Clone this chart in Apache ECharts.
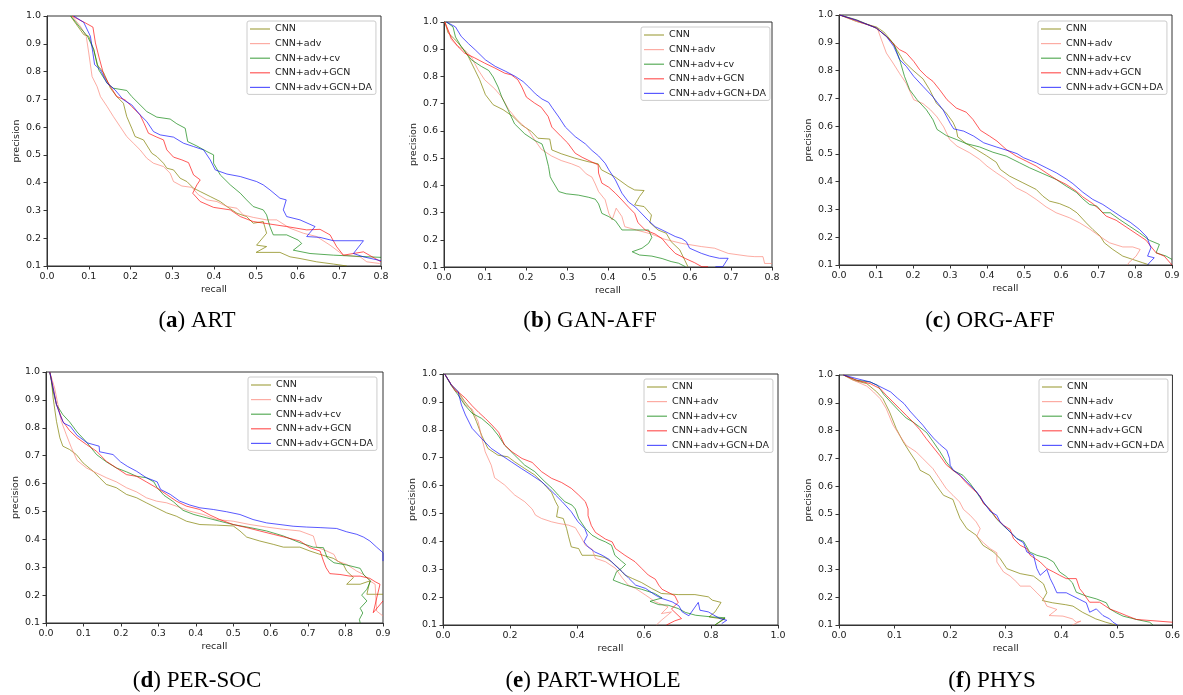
<!DOCTYPE html>
<html>
<head>
<meta charset="utf-8">
<script src="https://cdn.jsdelivr.net/npm/echarts@6/dist/echarts.min.js"></script>
<style>
  html, body { margin: 0; padding: 0; background: #fff; }
  #chart { width: 1183px; height: 695px; }
</style>
</head>
<body>
<div id="chart"></div>
<script>
const seriesNames = ['CNN', 'CNN+adv', 'CNN+adv+cv', 'CNN+adv+GCN', 'CNN+adv+GCN+DA']
const captionLetters = ['a', 'b', 'c', 'd', 'e', 'f']
const captionNames = ['ART', 'GAN-AFF', 'ORG-AFF', 'PER-SOC', 'PART-WHOLE', 'PHYS']
const xMaxes = [0.8, 0.8, 0.9, 0.9, 1.0, 0.6]
const xSteps = [0.1, 0.1, 0.1, 0.1, 0.2, 0.1]

// (a) ART
const artCnn = [[0.056,1.0],[0.088,0.933],[0.10,0.927],[0.112,0.879],[0.12,0.825],[0.136,0.795],[0.152,0.74],[0.167,0.71],[0.183,0.686],[0.191,0.638],[0.203,0.596],[0.211,0.566],[0.231,0.554],[0.251,0.506],[0.263,0.494],[0.279,0.47],[0.287,0.452],[0.303,0.446],[0.319,0.416],[0.335,0.404],[0.351,0.38],[0.367,0.368],[0.391,0.35],[0.415,0.332],[0.431,0.314],[0.455,0.29],[0.478,0.278],[0.494,0.254],[0.518,0.26],[0.526,0.218],[0.502,0.175],[0.526,0.17],[0.501,0.149],[0.558,0.149],[0.582,0.133],[0.606,0.127],[0.646,0.115],[0.686,0.107],[0.718,0.10]]
const artAdv = [[0.06,1.0],[0.08,0.963],[0.094,0.927],[0.10,0.867],[0.108,0.782],[0.12,0.746],[0.128,0.71],[0.144,0.674],[0.159,0.638],[0.175,0.602],[0.191,0.566],[0.207,0.542],[0.223,0.518],[0.239,0.488],[0.255,0.47],[0.279,0.458],[0.295,0.434],[0.303,0.404],[0.323,0.388],[0.347,0.383],[0.363,0.356],[0.383,0.338],[0.407,0.332],[0.431,0.314],[0.455,0.308],[0.47,0.284],[0.494,0.275],[0.526,0.266],[0.55,0.266],[0.582,0.236],[0.614,0.218],[0.646,0.206],[0.678,0.175],[0.71,0.139],[0.75,0.133],[0.766,0.115],[0.797,0.109]]
const artCv = [[0.057,1.0],[0.08,0.957],[0.097,0.927],[0.112,0.879],[0.124,0.806],[0.144,0.758],[0.159,0.74],[0.191,0.732],[0.203,0.71],[0.223,0.68],[0.239,0.656],[0.263,0.636],[0.295,0.629],[0.311,0.612],[0.331,0.596],[0.337,0.548],[0.359,0.532],[0.383,0.512],[0.399,0.50],[0.399,0.47],[0.415,0.428],[0.439,0.392],[0.463,0.362],[0.478,0.338],[0.494,0.314],[0.518,0.302],[0.526,0.284],[0.534,0.242],[0.542,0.212],[0.574,0.212],[0.602,0.193],[0.61,0.181],[0.59,0.157],[0.63,0.145],[0.686,0.139],[0.80,0.131]]
const artGcn = [[0.06,1.0],[0.092,0.975],[0.11,0.96],[0.116,0.903],[0.125,0.849],[0.136,0.788],[0.152,0.746],[0.167,0.71],[0.187,0.698],[0.203,0.674],[0.223,0.644],[0.233,0.612],[0.243,0.578],[0.263,0.564],[0.279,0.554],[0.287,0.518],[0.303,0.492],[0.323,0.482],[0.339,0.472],[0.351,0.428],[0.367,0.41],[0.359,0.392],[0.349,0.362],[0.367,0.332],[0.399,0.311],[0.439,0.302],[0.463,0.278],[0.494,0.26],[0.534,0.251],[0.574,0.242],[0.622,0.23],[0.654,0.232],[0.678,0.212],[0.694,0.169],[0.71,0.139],[0.758,0.151],[0.80,0.115]]
const artDa = [[0.064,1.0],[0.088,0.977],[0.104,0.927],[0.114,0.825],[0.128,0.806],[0.144,0.758],[0.163,0.734],[0.183,0.698],[0.203,0.68],[0.223,0.644],[0.239,0.62],[0.255,0.584],[0.271,0.572],[0.303,0.564],[0.327,0.542],[0.351,0.53],[0.375,0.518],[0.391,0.482],[0.403,0.446],[0.431,0.431],[0.463,0.422],[0.502,0.404],[0.518,0.392],[0.534,0.374],[0.558,0.344],[0.573,0.338],[0.566,0.302],[0.574,0.278],[0.606,0.266],[0.642,0.242],[0.622,0.206],[0.654,0.203],[0.686,0.191],[0.758,0.191],[0.734,0.145],[0.758,0.133],[0.80,0.119]]

// (b) GAN-AFF
const ganCnn = [[0.002,1.0],[0.01,0.96],[0.026,0.937],[0.042,0.91],[0.059,0.874],[0.075,0.825],[0.087,0.788],[0.101,0.733],[0.12,0.696],[0.144,0.678],[0.168,0.653],[0.189,0.622],[0.213,0.598],[0.229,0.573],[0.258,0.57],[0.263,0.53],[0.286,0.516],[0.319,0.50],[0.351,0.487],[0.376,0.479],[0.384,0.457],[0.416,0.432],[0.449,0.396],[0.465,0.383],[0.488,0.381],[0.477,0.359],[0.465,0.328],[0.488,0.322],[0.506,0.291],[0.502,0.263],[0.522,0.236],[0.542,0.224],[0.554,0.193],[0.575,0.163],[0.587,0.126],[0.595,0.101]]
const ganAdv = [[0.002,1.0],[0.018,0.935],[0.034,0.91],[0.05,0.898],[0.067,0.871],[0.083,0.825],[0.099,0.788],[0.124,0.754],[0.141,0.724],[0.158,0.678],[0.18,0.638],[0.205,0.604],[0.221,0.567],[0.237,0.533],[0.262,0.508],[0.286,0.491],[0.311,0.479],[0.331,0.467],[0.347,0.442],[0.361,0.43],[0.369,0.405],[0.377,0.377],[0.393,0.347],[0.402,0.297],[0.41,0.273],[0.42,0.316],[0.434,0.285],[0.441,0.248],[0.469,0.236],[0.506,0.221],[0.538,0.202],[0.579,0.187],[0.628,0.175],[0.66,0.169],[0.693,0.15],[0.741,0.14],[0.758,0.138],[0.778,0.138],[0.782,0.113],[0.80,0.113]]
const ganCv = [[0.006,1.0],[0.022,0.982],[0.028,0.945],[0.042,0.91],[0.067,0.861],[0.091,0.837],[0.109,0.822],[0.12,0.798],[0.132,0.761],[0.141,0.724],[0.156,0.678],[0.172,0.626],[0.197,0.589],[0.221,0.565],[0.239,0.552],[0.247,0.518],[0.255,0.469],[0.259,0.432],[0.263,0.42],[0.28,0.377],[0.298,0.369],[0.328,0.364],[0.353,0.356],[0.369,0.349],[0.377,0.332],[0.385,0.297],[0.402,0.285],[0.418,0.27],[0.434,0.236],[0.469,0.236],[0.499,0.236],[0.507,0.209],[0.499,0.187],[0.483,0.169],[0.459,0.156],[0.477,0.144],[0.507,0.14],[0.532,0.131],[0.554,0.12],[0.572,0.114],[0.589,0.101]]
const ganGcn = [[0.002,1.0],[0.018,0.941],[0.034,0.91],[0.05,0.886],[0.075,0.868],[0.099,0.849],[0.124,0.831],[0.148,0.812],[0.164,0.806],[0.18,0.788],[0.19,0.761],[0.201,0.724],[0.221,0.702],[0.237,0.687],[0.254,0.653],[0.263,0.614],[0.286,0.579],[0.302,0.555],[0.32,0.518],[0.337,0.503],[0.359,0.487],[0.376,0.475],[0.377,0.445],[0.385,0.408],[0.402,0.393],[0.418,0.371],[0.434,0.346],[0.45,0.32],[0.465,0.297],[0.473,0.263],[0.491,0.236],[0.515,0.221],[0.532,0.204],[0.548,0.175],[0.564,0.15],[0.589,0.131],[0.611,0.116],[0.629,0.101],[0.644,0.101]]
const ganDa = [[0.006,1.0],[0.028,0.982],[0.042,0.947],[0.06,0.92],[0.076,0.898],[0.101,0.861],[0.125,0.837],[0.15,0.819],[0.174,0.8],[0.193,0.781],[0.207,0.761],[0.223,0.736],[0.239,0.717],[0.255,0.705],[0.263,0.687],[0.28,0.651],[0.296,0.614],[0.32,0.579],[0.345,0.552],[0.361,0.528],[0.377,0.508],[0.393,0.481],[0.402,0.457],[0.418,0.42],[0.434,0.371],[0.45,0.339],[0.467,0.32],[0.483,0.295],[0.499,0.27],[0.515,0.248],[0.532,0.236],[0.548,0.224],[0.564,0.212],[0.58,0.204],[0.591,0.193],[0.599,0.169],[0.628,0.15],[0.648,0.14],[0.672,0.132],[0.693,0.132],[0.68,0.101],[0.662,0.101]]

// (c) ORG-AFF
const orgCnn = [[0.002,1.0],[0.047,0.977],[0.101,0.957],[0.121,0.939],[0.139,0.911],[0.157,0.873],[0.175,0.833],[0.2,0.801],[0.227,0.77],[0.245,0.731],[0.263,0.683],[0.29,0.647],[0.308,0.614],[0.317,0.588],[0.321,0.561],[0.344,0.537],[0.371,0.516],[0.398,0.494],[0.425,0.47],[0.436,0.444],[0.461,0.42],[0.497,0.396],[0.533,0.372],[0.551,0.348],[0.569,0.33],[0.596,0.321],[0.623,0.306],[0.643,0.288],[0.668,0.252],[0.686,0.228],[0.706,0.204],[0.717,0.18],[0.74,0.156],[0.767,0.132],[0.794,0.12],[0.821,0.108],[0.839,0.10]]
const orgAdv = [[0.002,1.0],[0.047,0.977],[0.092,0.959],[0.105,0.947],[0.112,0.921],[0.128,0.863],[0.146,0.827],[0.164,0.789],[0.182,0.753],[0.202,0.695],[0.227,0.681],[0.247,0.659],[0.265,0.633],[0.283,0.597],[0.299,0.552],[0.319,0.528],[0.353,0.504],[0.38,0.48],[0.40,0.456],[0.425,0.432],[0.452,0.408],[0.479,0.378],[0.506,0.36],[0.533,0.336],[0.56,0.309],[0.587,0.288],[0.623,0.27],[0.65,0.252],[0.677,0.23],[0.704,0.204],[0.731,0.18],[0.767,0.165],[0.794,0.165],[0.814,0.156],[0.803,0.132],[0.783,0.108],[0.78,0.10]]
const orgCv = [[0.002,1.0],[0.047,0.983],[0.101,0.953],[0.128,0.923],[0.148,0.897],[0.164,0.839],[0.177,0.779],[0.191,0.731],[0.211,0.695],[0.236,0.659],[0.254,0.623],[0.265,0.588],[0.29,0.566],[0.317,0.552],[0.344,0.537],[0.38,0.525],[0.416,0.506],[0.452,0.492],[0.488,0.468],[0.515,0.45],[0.551,0.429],[0.587,0.408],[0.614,0.384],[0.641,0.362],[0.659,0.338],[0.677,0.318],[0.697,0.312],[0.713,0.288],[0.733,0.288],[0.758,0.264],[0.785,0.24],[0.812,0.216],[0.839,0.189],[0.866,0.174],[0.857,0.144],[0.884,0.132],[0.90,0.12]]
const orgGcn = [[0.002,1.0],[0.047,0.981],[0.101,0.953],[0.128,0.923],[0.146,0.897],[0.164,0.875],[0.182,0.863],[0.202,0.833],[0.218,0.803],[0.236,0.779],[0.254,0.761],[0.272,0.731],[0.292,0.695],[0.317,0.665],[0.344,0.65],[0.362,0.624],[0.382,0.585],[0.407,0.564],[0.427,0.546],[0.452,0.516],[0.479,0.492],[0.506,0.474],[0.533,0.456],[0.56,0.432],[0.587,0.408],[0.614,0.39],[0.641,0.366],[0.659,0.345],[0.686,0.321],[0.704,0.3],[0.722,0.276],[0.749,0.261],[0.776,0.237],[0.803,0.213],[0.83,0.189],[0.841,0.17],[0.857,0.144],[0.879,0.132],[0.90,0.10]]
const orgDa = [[0.002,1.0],[0.047,0.981],[0.101,0.953],[0.128,0.923],[0.148,0.887],[0.164,0.839],[0.182,0.815],[0.202,0.779],[0.227,0.743],[0.254,0.705],[0.281,0.659],[0.301,0.609],[0.31,0.59],[0.337,0.582],[0.364,0.564],[0.391,0.54],[0.425,0.525],[0.461,0.51],[0.481,0.501],[0.499,0.486],[0.533,0.468],[0.56,0.45],[0.587,0.432],[0.614,0.41],[0.632,0.393],[0.659,0.362],[0.686,0.336],[0.713,0.318],[0.74,0.294],[0.767,0.27],[0.787,0.254],[0.812,0.228],[0.832,0.201],[0.843,0.162],[0.834,0.132],[0.852,0.126],[0.839,0.108],[0.834,0.10]]

// (d) PER-SOC
const perCnn = [[0.01,1.0],[0.014,0.979],[0.019,0.907],[0.028,0.823],[0.037,0.764],[0.045,0.734],[0.063,0.722],[0.081,0.704],[0.099,0.674],[0.126,0.644],[0.143,0.621],[0.161,0.597],[0.188,0.585],[0.215,0.561],[0.242,0.549],[0.268,0.531],[0.295,0.513],[0.322,0.495],[0.348,0.483],[0.375,0.465],[0.411,0.453],[0.455,0.451],[0.50,0.448],[0.518,0.43],[0.536,0.408],[0.571,0.394],[0.607,0.382],[0.634,0.372],[0.678,0.372],[0.705,0.358],[0.732,0.346],[0.767,0.332],[0.794,0.31],[0.803,0.286],[0.821,0.263],[0.803,0.239],[0.839,0.239],[0.865,0.251],[0.857,0.203],[0.90,0.203]]
const perAdv = [[0.01,1.0],[0.023,0.943],[0.032,0.883],[0.041,0.823],[0.054,0.776],[0.068,0.728],[0.083,0.683],[0.108,0.656],[0.135,0.638],[0.161,0.621],[0.188,0.606],[0.215,0.585],[0.242,0.57],[0.268,0.549],[0.295,0.537],[0.322,0.531],[0.348,0.519],[0.384,0.501],[0.42,0.489],[0.455,0.471],[0.50,0.465],[0.545,0.453],[0.589,0.444],[0.634,0.436],[0.678,0.43],[0.714,0.412],[0.723,0.372],[0.75,0.358],[0.769,0.346],[0.778,0.322],[0.803,0.31],[0.83,0.286],[0.848,0.274],[0.865,0.251],[0.879,0.239],[0.883,0.143],[0.90,0.125]]
const perCv = [[0.01,1.0],[0.019,0.931],[0.028,0.883],[0.045,0.847],[0.063,0.821],[0.083,0.785],[0.108,0.749],[0.135,0.704],[0.161,0.678],[0.188,0.656],[0.215,0.642],[0.242,0.626],[0.268,0.621],[0.288,0.606],[0.297,0.585],[0.315,0.558],[0.34,0.535],[0.366,0.504],[0.395,0.489],[0.429,0.477],[0.464,0.465],[0.50,0.453],[0.545,0.442],[0.589,0.43],[0.634,0.412],[0.678,0.388],[0.714,0.372],[0.741,0.37],[0.751,0.334],[0.769,0.316],[0.803,0.308],[0.839,0.296],[0.849,0.272],[0.867,0.251],[0.857,0.221],[0.843,0.20],[0.857,0.179],[0.839,0.153],[0.846,0.136],[0.837,0.113],[0.839,0.10]]
const perGcn = [[0.01,1.0],[0.019,0.943],[0.028,0.883],[0.045,0.823],[0.063,0.79],[0.083,0.764],[0.108,0.74],[0.135,0.716],[0.161,0.68],[0.188,0.656],[0.215,0.632],[0.242,0.626],[0.268,0.606],[0.295,0.585],[0.322,0.561],[0.348,0.537],[0.375,0.519],[0.411,0.507],[0.438,0.487],[0.464,0.471],[0.50,0.453],[0.536,0.442],[0.571,0.43],[0.607,0.418],[0.643,0.406],[0.678,0.394],[0.705,0.37],[0.732,0.358],[0.741,0.322],[0.748,0.298],[0.758,0.277],[0.785,0.274],[0.812,0.268],[0.839,0.268],[0.865,0.26],[0.879,0.248],[0.892,0.239],[0.874,0.137],[0.90,0.179]]
const perDa = [[0.01,1.0],[0.019,0.943],[0.028,0.883],[0.038,0.845],[0.047,0.817],[0.065,0.805],[0.083,0.773],[0.11,0.746],[0.142,0.734],[0.143,0.714],[0.179,0.704],[0.199,0.678],[0.217,0.662],[0.242,0.644],[0.268,0.621],[0.297,0.606],[0.306,0.579],[0.332,0.561],[0.357,0.537],[0.384,0.523],[0.411,0.513],[0.447,0.507],[0.482,0.499],[0.518,0.489],[0.553,0.471],[0.589,0.459],[0.625,0.453],[0.66,0.447],[0.696,0.444],[0.732,0.442],[0.776,0.439],[0.803,0.427],[0.83,0.418],[0.848,0.408],[0.865,0.394],[0.883,0.372],[0.90,0.352],[0.90,0.322]]

// (e) PART-WHOLE
const partCnn = [[0.005,1.0],[0.025,0.961],[0.045,0.937],[0.065,0.901],[0.085,0.871],[0.10,0.829],[0.115,0.781],[0.134,0.733],[0.164,0.709],[0.194,0.703],[0.214,0.685],[0.244,0.661],[0.274,0.638],[0.304,0.602],[0.324,0.575],[0.336,0.542],[0.344,0.524],[0.339,0.488],[0.359,0.482],[0.369,0.446],[0.375,0.416],[0.383,0.38],[0.405,0.374],[0.415,0.35],[0.453,0.35],[0.483,0.342],[0.503,0.327],[0.525,0.303],[0.543,0.279],[0.565,0.267],[0.593,0.252],[0.623,0.231],[0.652,0.213],[0.702,0.209],[0.752,0.209],[0.792,0.201],[0.804,0.189],[0.83,0.181],[0.812,0.147],[0.794,0.129],[0.827,0.123],[0.842,0.123],[0.812,0.10]]
const partAdv = [[0.005,1.0],[0.025,0.961],[0.045,0.934],[0.067,0.889],[0.087,0.874],[0.105,0.829],[0.115,0.775],[0.126,0.721],[0.144,0.673],[0.154,0.628],[0.184,0.602],[0.214,0.566],[0.244,0.542],[0.266,0.516],[0.276,0.494],[0.294,0.482],[0.324,0.47],[0.346,0.464],[0.375,0.458],[0.395,0.449],[0.413,0.413],[0.425,0.386],[0.445,0.372],[0.455,0.339],[0.485,0.327],[0.515,0.303],[0.535,0.269],[0.553,0.243],[0.575,0.231],[0.605,0.207],[0.634,0.183],[0.672,0.165],[0.652,0.141],[0.682,0.147],[0.652,0.117],[0.637,0.10]]
const partCv = [[0.005,1.0],[0.025,0.958],[0.045,0.925],[0.065,0.889],[0.087,0.859],[0.115,0.841],[0.144,0.811],[0.164,0.781],[0.184,0.745],[0.214,0.709],[0.244,0.673],[0.274,0.65],[0.304,0.614],[0.326,0.59],[0.344,0.566],[0.364,0.542],[0.385,0.53],[0.395,0.516],[0.405,0.482],[0.425,0.446],[0.445,0.422],[0.465,0.408],[0.485,0.398],[0.503,0.386],[0.513,0.35],[0.533,0.329],[0.545,0.317],[0.533,0.303],[0.518,0.291],[0.508,0.261],[0.533,0.249],[0.555,0.24],[0.593,0.228],[0.632,0.213],[0.654,0.197],[0.618,0.185],[0.644,0.173],[0.672,0.171],[0.702,0.159],[0.724,0.145],[0.754,0.135],[0.802,0.129],[0.842,0.126],[0.812,0.10]]
const partGcn = [[0.005,1.0],[0.025,0.961],[0.037,0.939],[0.05,0.931],[0.067,0.913],[0.087,0.886],[0.107,0.862],[0.126,0.841],[0.146,0.817],[0.166,0.791],[0.184,0.745],[0.206,0.721],[0.236,0.697],[0.266,0.683],[0.294,0.65],[0.324,0.626],[0.354,0.611],[0.383,0.59],[0.405,0.566],[0.425,0.542],[0.433,0.516],[0.433,0.492],[0.443,0.456],[0.455,0.432],[0.485,0.408],[0.505,0.398],[0.515,0.374],[0.543,0.35],[0.573,0.327],[0.593,0.303],[0.613,0.279],[0.634,0.264],[0.644,0.243],[0.654,0.228],[0.692,0.205],[0.702,0.181],[0.682,0.157],[0.712,0.123],[0.692,0.115],[0.667,0.10]]
const partDa = [[0.005,1.0],[0.025,0.961],[0.045,0.937],[0.055,0.889],[0.067,0.853],[0.087,0.805],[0.115,0.769],[0.144,0.733],[0.174,0.709],[0.204,0.685],[0.234,0.661],[0.264,0.638],[0.294,0.614],[0.316,0.59],[0.336,0.566],[0.356,0.542],[0.383,0.506],[0.403,0.47],[0.423,0.446],[0.431,0.422],[0.421,0.398],[0.433,0.38],[0.453,0.362],[0.475,0.35],[0.495,0.336],[0.513,0.315],[0.535,0.291],[0.555,0.267],[0.575,0.243],[0.605,0.231],[0.634,0.207],[0.654,0.195],[0.684,0.183],[0.704,0.169],[0.714,0.147],[0.734,0.133],[0.762,0.181],[0.767,0.153],[0.792,0.147],[0.812,0.133],[0.827,0.123],[0.847,0.117],[0.832,0.105]]

// (f) PHYS
const physCnn = [[0.008,1.0],[0.026,0.981],[0.05,0.969],[0.068,0.939],[0.079,0.915],[0.091,0.867],[0.103,0.807],[0.115,0.761],[0.127,0.723],[0.139,0.687],[0.146,0.657],[0.163,0.639],[0.175,0.603],[0.188,0.567],[0.205,0.552],[0.211,0.519],[0.218,0.483],[0.23,0.447],[0.247,0.423],[0.259,0.387],[0.278,0.363],[0.29,0.339],[0.302,0.303],[0.326,0.285],[0.35,0.276],[0.368,0.248],[0.374,0.216],[0.366,0.188],[0.384,0.18],[0.408,0.173],[0.421,0.168],[0.438,0.146],[0.462,0.122],[0.48,0.11],[0.498,0.10]]
const physAdv = [[0.008,1.0],[0.026,0.981],[0.05,0.96],[0.062,0.939],[0.074,0.915],[0.085,0.879],[0.097,0.821],[0.109,0.783],[0.121,0.747],[0.139,0.723],[0.151,0.699],[0.169,0.663],[0.181,0.627],[0.193,0.591],[0.205,0.567],[0.217,0.543],[0.224,0.516],[0.236,0.495],[0.247,0.471],[0.254,0.447],[0.248,0.42],[0.26,0.396],[0.272,0.375],[0.284,0.36],[0.284,0.327],[0.296,0.291],[0.308,0.276],[0.32,0.254],[0.326,0.24],[0.344,0.24],[0.356,0.216],[0.368,0.192],[0.374,0.168],[0.392,0.156],[0.378,0.134],[0.403,0.132],[0.42,0.122],[0.427,0.11],[0.435,0.114],[0.42,0.10]]
const physCv = [[0.008,1.0],[0.032,0.981],[0.056,0.975],[0.069,0.963],[0.081,0.929],[0.093,0.903],[0.109,0.869],[0.121,0.845],[0.133,0.831],[0.145,0.813],[0.158,0.792],[0.169,0.761],[0.182,0.723],[0.193,0.687],[0.205,0.657],[0.223,0.639],[0.235,0.612],[0.247,0.579],[0.259,0.543],[0.271,0.516],[0.283,0.483],[0.295,0.459],[0.308,0.435],[0.32,0.411],[0.332,0.401],[0.343,0.363],[0.356,0.351],[0.374,0.341],[0.386,0.327],[0.397,0.291],[0.408,0.276],[0.42,0.252],[0.427,0.218],[0.445,0.204],[0.463,0.194],[0.481,0.18],[0.487,0.158],[0.499,0.144],[0.511,0.132],[0.535,0.12],[0.559,0.11],[0.565,0.10]]
const physGcn = [[0.008,1.0],[0.032,0.981],[0.056,0.969],[0.074,0.951],[0.085,0.927],[0.097,0.903],[0.109,0.879],[0.121,0.855],[0.133,0.831],[0.145,0.804],[0.157,0.771],[0.169,0.741],[0.181,0.711],[0.193,0.677],[0.205,0.657],[0.217,0.639],[0.229,0.612],[0.248,0.576],[0.254,0.564],[0.26,0.537],[0.272,0.516],[0.284,0.483],[0.296,0.459],[0.308,0.444],[0.314,0.411],[0.326,0.387],[0.338,0.375],[0.344,0.351],[0.362,0.327],[0.374,0.303],[0.386,0.291],[0.397,0.279],[0.409,0.267],[0.427,0.267],[0.433,0.231],[0.439,0.216],[0.451,0.182],[0.469,0.182],[0.487,0.158],[0.505,0.144],[0.517,0.134],[0.535,0.12],[0.60,0.11]]
const physDa = [[0.008,1.0],[0.032,0.987],[0.056,0.975],[0.069,0.963],[0.081,0.951],[0.093,0.939],[0.105,0.917],[0.117,0.897],[0.129,0.867],[0.14,0.843],[0.151,0.819],[0.158,0.801],[0.17,0.773],[0.182,0.749],[0.194,0.729],[0.199,0.699],[0.20,0.675],[0.206,0.657],[0.218,0.639],[0.23,0.615],[0.248,0.579],[0.26,0.543],[0.272,0.509],[0.284,0.495],[0.29,0.471],[0.308,0.435],[0.32,0.411],[0.332,0.396],[0.338,0.363],[0.35,0.351],[0.356,0.303],[0.362,0.279],[0.374,0.30],[0.38,0.267],[0.386,0.243],[0.392,0.216],[0.409,0.216],[0.421,0.204],[0.433,0.192],[0.445,0.18],[0.451,0.146],[0.463,0.158],[0.475,0.134],[0.487,0.122],[0.493,0.11],[0.501,0.10]]

const panels = [
  [artCnn, artAdv, artCv, artGcn, artDa],
  [ganCnn, ganAdv, ganCv, ganGcn, ganDa],
  [orgCnn, orgAdv, orgCv, orgGcn, orgDa],
  [perCnn, perAdv, perCv, perGcn, perDa],
  [partCnn, partAdv, partCv, partGcn, partDa],
  [physCnn, physAdv, physCv, physGcn, physDa]
]

// layout (pixels)
const gridBoxes = [
  [47, 16, 334, 250], [444, 22, 328, 245], [839, 15, 333, 250],
  [46, 372, 337, 251], [443, 374, 335, 251], [839, 375, 335, 250]
]
const legendPos = [[247, 21], [641, 27], [1038, 21], [248, 377], [644, 379], [1039, 379]]
const captionPos = [[197, 321], [590, 321], [990, 321], [197, 681], [593, 681], [992, 681]]
const lineColors = [
  'rgba(128,128,0,0.7)',
  'rgba(250,128,114,0.65)',
  'rgba(0,128,0,0.65)',
  'rgba(255,0,0,0.65)',
  'rgba(0,0,255,0.65)'
]

const chart = echarts.init(document.getElementById('chart'), null, {renderer: 'canvas'})
const fmt = v => v.toFixed(1)
const tickFont = {fontFamily: 'DejaVu Sans', fontSize: 9.5, color: '#222'}

const grid = gridBoxes.map(b => ({
  left: b[0], top: b[1], width: b[2], height: b[3],
  show: true, borderColor: '#333', borderWidth: 1, backgroundColor: 'transparent'
}))

const xAxis = gridBoxes.map((b, i) => ({
  type: 'value', gridIndex: i, min: 0, max: xMaxes[i], interval: xSteps[i],
  name: 'recall', nameLocation: 'middle', nameGap: 19,
  nameTextStyle: {fontFamily: 'DejaVu Sans', fontSize: 9.5, color: '#222'},
  axisLine: {show: true, onZero: false, lineStyle: {color: '#333', width: 1}},
  axisTick: {show: true, length: 3.5, lineStyle: {color: '#333'}},
  axisLabel: Object.assign({formatter: fmt, margin: 6}, tickFont),
  splitLine: {show: false}
}))

const yAxis = gridBoxes.map((b, i) => ({
  type: 'value', gridIndex: i, min: 0.1, max: 1.0, interval: 0.1,
  name: 'precision', nameLocation: 'middle', nameGap: 25, nameRotate: 90,
  nameTextStyle: {fontFamily: 'DejaVu Sans', fontSize: 9.5, color: '#222'},
  axisLine: {show: true, onZero: false, lineStyle: {color: '#333', width: 1}},
  axisTick: {show: true, length: 3.5, lineStyle: {color: '#333'}},
  axisLabel: Object.assign({formatter: fmt, margin: 6}, tickFont),
  splitLine: {show: false}
}))

const series = []
panels.forEach((curves, p) => {
  curves.forEach((pts, s) => {
    series.push({
      type: 'line', name: seriesNames[s], xAxisIndex: p, yAxisIndex: p,
      data: pts, symbol: 'none', smooth: false, clip: true,
      lineStyle: {color: lineColors[s], width: 1},
      itemStyle: {color: lineColors[s]},
      animation: false, silent: true
    })
  })
})

const legend = legendPos.map(pos => ({
  data: seriesNames, orient: 'vertical', left: pos[0], top: pos[1],
  icon: 'rect', itemWidth: 20, itemHeight: 1.2, itemGap: 4.6,
  padding: [3, 4, 2, 3],
  borderColor: '#ccc', borderWidth: 1, borderRadius: 2,
  backgroundColor: 'rgba(255,255,255,0.8)',
  selectedMode: false,
  textStyle: {fontFamily: 'DejaVu Sans', fontSize: 9.5, color: '#222', lineHeight: 10}
}))

const capRich = {
  n: {fontFamily: 'Liberation Serif', fontSize: 23, fill: '#000'},
  b: {fontFamily: 'Liberation Serif', fontSize: 23, fontWeight: 'bold', fill: '#000'}
}
const graphic = captionPos.map((pos, i) => ({
  type: 'text', x: pos[0], y: pos[1], silent: true,
  style: {
    text: '{n|(}{b|' + captionLetters[i] + '}{n|) ' + captionNames[i] + '}',
    rich: capRich, align: 'center', verticalAlign: 'middle'
  }
}))

chart.setOption({
  backgroundColor: '#fff',
  animation: false,
  grid, xAxis, yAxis, series, legend, graphic
})
</script>
</body>
</html>
